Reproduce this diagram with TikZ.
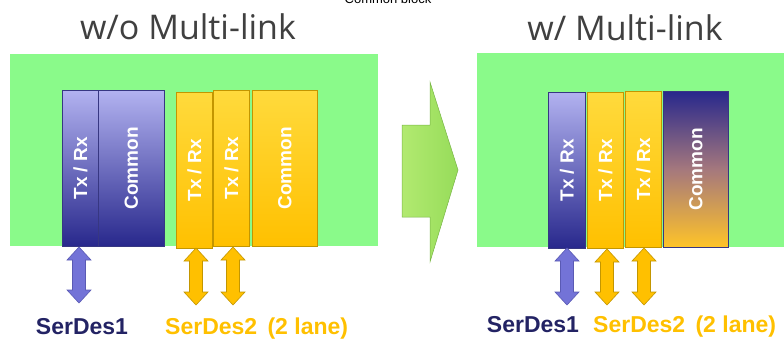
\documentclass[tikz,border=0pt]{standalone}
\usepackage{fontspec}
\setmainfont{Liberation Sans}
\newfontfamily\titlefont{Open Sans}
\definecolor{bggreen}{RGB}{138,250,138}
\definecolor{navy}{RGB}{40,40,140}
\definecolor{lav}{RGB}{178,178,240}
\definecolor{blueedge}{RGB}{55,55,130}
\definecolor{gold}{RGB}{255,192,0}
\definecolor{goldlight}{RGB}{255,218,60}
\definecolor{goldedge}{RGB}{195,150,0}
\definecolor{arrowblue}{RGB}{115,115,215}
\definecolor{arrowblueedge}{RGB}{90,90,180}
\definecolor{titlegray}{RGB}{64,64,64}
\definecolor{labelnavy}{RGB}{35,35,100}
\definecolor{arrgreen}{RGB}{150,220,90}
\definecolor{arrgreenlt}{RGB}{178,234,112}
\definecolor{arrgreenedge}{RGB}{120,180,70}
\definecolor{mauve}{RGB}{165,120,125}
\tikzset{
  panel/.style={fill=bggreen, draw=none},
  blk/.style={draw, line width=0.8pt, minimum height=156pt, inner sep=0pt, anchor=north west},
  blueblk/.style={blk, draw=blueedge, top color=lav, bottom color=navy},
  yelblk/.style={blk, draw=goldedge, top color=goldlight, bottom color=gold},
  mixblk/.style={blk, draw=blueedge, top color=navy, bottom color={rgb,255:red,255;green,196;blue,40}, middle color=mauve},
  blktxt/.style={rotate=90, text=white, font=\bfseries\fontsize{19}{22}\selectfont, inner sep=0pt},
  bluearr/.style={fill=arrowblue, draw=arrowblueedge, line width=0.6pt},
  yelarr/.style={fill=gold, draw=goldedge, line width=0.6pt},
  ttl/.style={font=\titlefont\fontsize{34}{40}\selectfont, text=titlegray, inner sep=0pt},
  lbl/.style={font=\bfseries\fontsize{23}{26}\selectfont, inner sep=0pt, anchor=base},
}
\begin{document}
\begin{tikzpicture}[x=1pt,y=-1pt]
\useasboundingbox (0,0) rectangle (784,338);
% clipped caption at top
\node[font=\fontsize{13}{15}\selectfont, anchor=base, inner sep=0pt] (cb) at (388,3) {Common block};
% titles
\node[ttl] (t1) at (188,27) {w/o Multi-link};
\node[ttl] (t2) at (625,28) {w/ Multi-link};
% panels
\fill[panel] (10,54) rectangle (378,246);
\fill[panel] (477,53) rectangle (784,247);
% big green arrow
\path[draw=arrgreenedge, line width=0.5pt, left color=arrgreenlt, right color=arrgreen]
  (402,125) -- (430,125) -- (430,82) -- (458,170) -- (430,262) -- (430,217) -- (402,217) -- cycle;
% left blocks
\node[blueblk, minimum width=36pt] (l1) at (62,90) {};
\node[blueblk, minimum width=66pt] (l2) at (98,90) {};
\node[yelblk, minimum width=36pt] (l3) at (176,92) {};
\node[yelblk, minimum width=36pt] (l4) at (213,90) {};
\node[yelblk, minimum width=65pt] (l5) at (252,90) {};
\node[blktxt] (l1t) at (l1.center) {Tx / Rx};
\node[blktxt] (l2t) at (l2.center) {Common};
\node[blktxt] (l3t) at (l3.center) {Tx / Rx};
\node[blktxt] (l4t) at (l4.center) {Tx / Rx};
\node[blktxt] (l5t) at (l5.center) {Common};
% right blocks
\node[blueblk, minimum width=37pt] (r1) at (548,92) {};
\node[yelblk, minimum width=36pt] (r2) at (587,92) {};
\node[yelblk, minimum width=36pt] (r3) at (625,91) {};
\node[mixblk, minimum width=65pt] (r4) at (663,91) {};
\node[blktxt] (r1t) at (r1.center) {Tx / Rx};
\node[blktxt] (r2t) at (r2.center) {Tx / Rx};
\node[blktxt] (r3t) at (r3.center) {Tx / Rx};
\node[blktxt] (r4t) at (r4.center) {Common};
% double-headed block arrows below the lanes
\draw[bluearr] (79,247) -- ++(12,13) -- ++(-5.5,0) -- (85.5,290) -- ++(5.5,0) -- (79,303) -- ++(-12,-13) -- ++(5.5,0) -- (72.5,260) -- ++(-5.5,0) -- cycle;
\draw[yelarr] (196,248) -- ++(12,13) -- ++(-5.5,0) -- (202.5,292) -- ++(5.5,0) -- (196,305) -- ++(-12,-13) -- ++(5.5,0) -- (189.5,261) -- ++(-5.5,0) -- cycle;
\draw[yelarr] (233,247) -- ++(12,13) -- ++(-5.5,0) -- (239.5,292) -- ++(5.5,0) -- (233,305) -- ++(-12,-13) -- ++(5.5,0) -- (226.5,260) -- ++(-5.5,0) -- cycle;
\draw[bluearr] (567,248) -- ++(12,13) -- ++(-5.5,0) -- (573.5,292) -- ++(5.5,0) -- (567,305) -- ++(-12,-13) -- ++(5.5,0) -- (560.5,261) -- ++(-5.5,0) -- cycle;
\draw[yelarr] (607,249) -- ++(12,13) -- ++(-5.5,0) -- (613.5,292) -- ++(5.5,0) -- (607,305) -- ++(-12,-13) -- ++(5.5,0) -- (600.5,262) -- ++(-5.5,0) -- cycle;
\draw[yelarr] (644,248) -- ++(12,13) -- ++(-5.5,0) -- (650.5,292) -- ++(5.5,0) -- (644,305) -- ++(-12,-13) -- ++(5.5,0) -- (637.5,261) -- ++(-5.5,0) -- cycle;
% labels
\node[lbl, text=labelnavy] (s1) at (82,334) {SerDes1};
\node[lbl, text=gold, anchor=base west] (s2) at (165,334) {SerDes2\hspace{0.45em}(2 lane)};
\node[lbl, text=labelnavy] (s3) at (533,332) {SerDes1};
\node[lbl, text=gold, anchor=base west] (s4) at (593,332) {SerDes2\hspace{0.45em}(2 lane)};
\end{tikzpicture}
\end{document}
